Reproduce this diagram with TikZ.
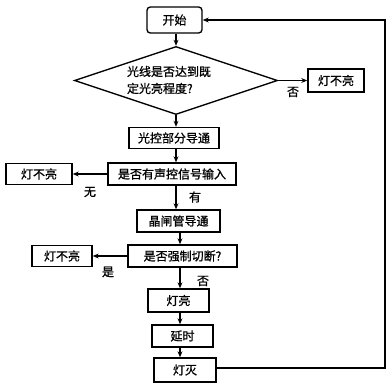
\documentclass[tikz,border=0pt]{standalone}
\usepackage{fontspec}
\newfontfamily\cjk[FakeBold=1]{Noto Sans CJK SC}
\usetikzlibrary{arrows.meta,shapes.geometric}

\begin{document}
\begin{tikzpicture}[
    x=0.75pt,y=-0.75pt,
    every node/.style={font=\cjk\fontsize{9}{12.75}\selectfont},
    boxsize/.style 2 args={minimum width=#1*0.75pt,minimum height=#2*0.75pt},
    stepbox/.style={draw,line width=1pt,inner sep=0pt},
    startbox/.style={stepbox,rounded corners=2.5pt},
    decision/.style={diamond,draw,line width=1pt,inner sep=0pt,aspect=3},
    flow/.style={-{Stealth[length=4.5pt,width=3.6pt]},line width=0.9pt},
    ilabel/.style={inner sep=1pt}
]
\useasboundingbox (0,0) rectangle (391,386);

% main column
\coordinate (axisA) at (176,0);
\coordinate (axisB) at (180,0);

\node[startbox,boxsize={55}{26}] (kaishi) at (174.5,20) {开始};
\node[decision,boxsize={203}{68}] (panduan) at (176,80.5) {};
\node[align=left,inner sep=0pt] (panduantext) at (169,80) {光线是否达到既\\定光亮程度?};
\node[stepbox,boxsize={90}{21}] (guangkong) at (174,138) {光控部分导通};
\node[stepbox,boxsize={128}{22}] (shengkong) at (172,174) {是否有声控信号输入};
\node[stepbox,boxsize={83}{22}] (jingzha) at (178.5,221) {晶闸管导通};
\node[stepbox,boxsize={109}{22}] (qiangzhi) at (182.5,256) {是否强制切断?};
\node[stepbox,boxsize={61}{23}] (dengliang) at (178.5,300.5) {灯亮};
\node[stepbox,boxsize={61}{22}] (yanshi) at (182.5,336) {延时};
\node[stepbox,boxsize={62}{24}] (dengmie) at (185,370) {灯灭};

% side branches
\node[stepbox,boxsize={56}{23}] (budengA) at (336,80.5) {灯不亮};
\node[stepbox,boxsize={66}{21}] (budengB) at (39,174) {灯不亮};
\node[stepbox,boxsize={60}{21}] (budengC) at (62,256) {灯不亮};

\node[ilabel] (fouA) at (293,92) {否};
\node[ilabel] (wu) at (90,192) {无};
\node[ilabel] (you) at (195,197) {有};
\node[ilabel] (shi) at (108,272) {是};
\node[ilabel] (fouB) at (203,281) {否};

\draw[flow] (kaishi.south -| axisA) -- (panduan.north);
\draw[flow] (panduan.south) -- (guangkong.north -| axisA);
\draw[flow] (guangkong.south -| axisA) -- (shengkong.north -| axisA);
\draw[flow] (shengkong.south -| axisA) -- (jingzha.north -| axisA);
\draw[flow] (jingzha.south -| axisB) -- (qiangzhi.north -| axisB);
\draw[flow] (qiangzhi.south -| axisB) -- (dengliang.north -| axisB);
\draw[flow] (dengliang.south -| axisB) -- (yanshi.north -| axisB);
\draw[flow] (yanshi.south -| axisB) -- (dengmie.north -| axisB);

\draw[flow] (panduan.east) -- (budengA.west);
\draw[flow] (shengkong.west) -- (budengB.east);
\draw[flow] (qiangzhi.west) -- (budengC.east);

% back to the start
\coordinate (back) at (385,368);
\draw[flow] (dengmie.east |- back) -- (back) |- (kaishi.east);
\end{tikzpicture}
\end{document}
